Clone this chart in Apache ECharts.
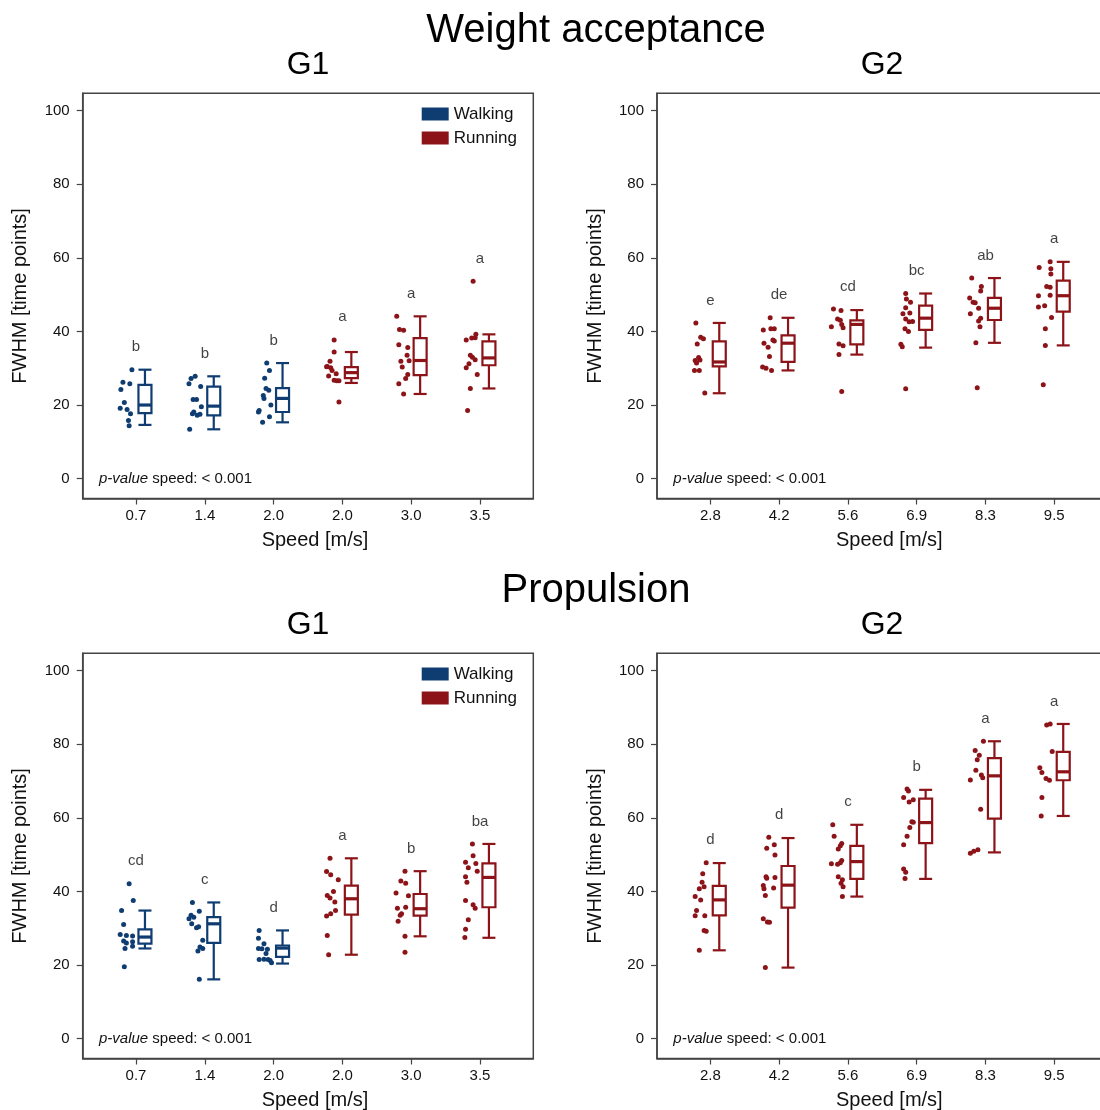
<!DOCTYPE html>
<html><head><meta charset="utf-8">
<script src="https://cdn.jsdelivr.net/npm/echarts@6/dist/echarts.min.js"></script>
<style>html,body{margin:0;padding:0;background:#fff}#c{width:1100px;height:1110px}</style>
</head><body><div id="c"></div>
<script>
// ---------- data ----------
const g1Speeds = ['0.7','1.4','2.0','2.0','3.0','3.5'];
const g2Speeds = ['2.8','4.2','5.6','6.9','8.3','9.5'];
const g1Modes = ['Walking','Walking','Walking','Running','Running','Running'];
const g2Modes = ['Running','Running','Running','Running','Running','Running'];
const yTicks = [0,20,40,60,80,100];

// box stats: [low whisker, Q1, median, Q3, high whisker]
const waG1Box = [[14.6,17.8,20.0,25.5,29.6],[13.4,17.2,19.7,25.0,27.8],[15.3,18.1,21.8,24.6,31.4],
                 [26.0,27.3,28.8,30.3,34.4],[23.0,28.1,32.1,38.2,44.1],[24.5,30.8,32.8,37.3,39.2]];
const waG2Box = [[23.2,30.5,31.7,37.3,42.3],[29.4,31.7,36.8,38.9,43.7],[33.7,36.5,41.9,43.0,45.8],
                 [35.6,40.4,43.6,47.0,50.3],[36.9,43.1,46.3,49.1,54.5],[36.2,45.4,49.7,53.8,58.9]];
const prG1Box = [[24.5,25.8,27.6,29.7,34.8],[16.1,26.0,31.2,33.0,37.0],[20.4,22.2,24.6,25.3,29.4],
                 [22.8,33.7,38.0,41.6,49.0],[27.8,33.4,35.3,39.3,45.5],[27.4,35.7,43.8,47.6,52.9]];
const prG2Box = [[24.0,33.5,37.7,41.5,47.7],[19.3,35.6,41.7,46.9,54.5],[38.6,43.4,48.1,52.4,58.1],
                 [43.4,53.1,58.7,65.2,67.6],[50.6,59.8,71.4,76.2,80.8],[60.5,70.2,72.5,77.9,85.5]];

const waG1Letters = ['b','b','b','a','a','a'];
const waG2Letters = ['e','de','cd','bc','ab','a'];
const prG1Letters = ['cd','c','d','a','b','ba'];
const prG2Letters = ['d','d','c','b','a','a'];

// individual observations
const waG1Dots = [
 [29.6,26.2,25.8,24.2,20.7,19.1,18.8,17.6,15.8,14.4],
 [27.8,27.2,25.8,25.0,21.5,21.5,19.5,18.1,17.2,17.5,17.6,13.4],
 [31.4,29.4,27.3,24.5,24.0,22.6,21.8,20.0,18.5,18.1,16.8,15.3],
 [37.7,34.4,31.9,30.5,30.1,29.4,27.9,28.5,26.7,26.6,26.6,20.8,30.4],
 [44.1,40.5,40.3,36.4,35.6,33.5,31.9,32.0,30.3,28.3,27.2,25.8,23.0],
 [53.6,39.2,38.3,37.7,38.2,33.5,33.0,32.3,31.2,30.1,28.3,24.5,18.5]
];
const waG1Jitter = [
 [-0.06,-0.19,-0.09,-0.22,-0.17,-0.23,-0.13,-0.08,-0.11,-0.10],
 [-0.14,-0.20,-0.23,-0.06,-0.17,-0.12,-0.05,-0.16,-0.11,-0.07,-0.18,-0.22],
 [-0.10,-0.06,-0.13,-0.11,-0.07,-0.15,-0.14,-0.04,-0.21,-0.22,-0.06,-0.16],
 [-0.12,-0.12,-0.18,-0.22,-0.17,-0.15,-0.20,-0.09,-0.12,-0.08,-0.05,-0.05,-0.23],
 [-0.21,-0.17,-0.11,-0.18,-0.05,-0.06,-0.15,-0.03,-0.13,-0.05,-0.08,-0.18,-0.11],
 [-0.10,-0.06,-0.07,-0.20,-0.12,-0.14,-0.11,-0.07,-0.16,-0.20,-0.04,-0.14,-0.18]
];
const waG2Dots = [
 [42.3,38.4,38.0,36.6,32.9,32.1,32.2,31.4,29.4,29.4,23.3],
 [43.7,40.4,40.7,40.7,36.8,37.7,37.4,35.7,33.2,30.3,30.0,29.4],
 [46.1,45.7,43.4,43.0,41.9,41.3,41.0,36.6,36.1,33.7,23.7],
 [50.3,48.8,47.9,46.4,44.8,45.0,43.4,42.7,42.6,40.7,40.0,36.5,35.8,24.4],
 [54.5,52.2,51.0,49.1,47.9,47.8,46.3,44.8,43.6,42.8,41.3,36.9,24.7],
 [58.9,57.4,57.0,55.6,52.2,52.0,49.7,49.8,47.0,46.6,43.8,40.7,36.2,25.5]
];
const waG2Jitter = [
 [-0.21,-0.14,-0.10,-0.19,-0.17,-0.22,-0.15,-0.20,-0.23,-0.16,-0.08],
 [-0.13,-0.23,-0.12,-0.07,-0.22,-0.09,-0.07,-0.16,-0.14,-0.24,-0.19,-0.11],
 [-0.21,-0.10,-0.15,-0.11,-0.09,-0.24,-0.07,-0.13,-0.07,-0.13,-0.09],
 [-0.16,-0.15,-0.09,-0.16,-0.20,-0.10,-0.16,-0.06,-0.11,-0.17,-0.12,-0.23,-0.21,-0.16],
 [-0.20,-0.06,-0.07,-0.23,-0.18,-0.15,-0.10,-0.22,-0.07,-0.10,-0.08,-0.14,-0.12],
 [-0.06,-0.22,-0.05,-0.05,-0.11,-0.06,-0.23,-0.06,-0.14,-0.23,-0.04,-0.13,-0.13,-0.16]
];
const prG1Dots = [
 [42.1,37.5,34.8,31.0,28.3,28.0,27.9,26.5,26.0,26.3,24.5,25.1,19.5],
 [37.0,34.6,33.5,33.0,32.6,31.2,30.1,30.4,26.7,24.9,24.5,23.8,16.1],
 [29.4,27.3,25.8,24.5,24.4,24.3,23.1,21.5,21.6,21.5,20.6,21.2],
 [49.0,45.4,44.5,43.2,40.0,38.9,38.2,37.1,34.8,33.9,33.3,28.0,22.8],
 [45.5,42.8,42.2,39.6,38.8,35.4,35.7,33.9,33.5,31.9,27.8,23.5],
 [52.9,49.7,47.9,47.6,46.4,45.5,44.0,42.5,37.5,36.4,35.4,32.3,29.7,27.5]
];
const prG1Jitter = [
 [-0.10,-0.04,-0.21,-0.18,-0.23,-0.14,-0.05,-0.18,-0.14,-0.05,-0.16,-0.05,-0.17],
 [-0.18,-0.08,-0.20,-0.16,-0.23,-0.19,-0.12,-0.09,-0.03,-0.07,-0.03,-0.10,-0.08],
 [-0.21,-0.22,-0.14,-0.22,-0.17,-0.09,-0.11,-0.21,-0.14,-0.08,-0.03,-0.05],
 [-0.18,-0.23,-0.17,-0.06,-0.13,-0.22,-0.18,-0.11,-0.10,-0.17,-0.23,-0.22,-0.20],
 [-0.09,-0.15,-0.08,-0.22,-0.04,-0.20,-0.08,-0.14,-0.16,-0.19,-0.09,-0.09],
 [-0.11,-0.10,-0.21,-0.06,-0.17,-0.04,-0.21,-0.19,-0.21,-0.10,-0.07,-0.17,-0.21,-0.22]
];
const prG2Dots = [
 [47.8,44.8,42.5,41.3,40.7,38.6,37.7,34.8,33.4,33.4,29.4,29.2,24.0],
 [54.7,51.7,52.7,49.9,44.0,43.6,43.8,41.6,40.7,40.9,38.9,32.6,31.7,31.6,19.3],
 [58.1,55.0,53.0,52.4,51.5,48.4,47.8,47.5,47.4,44.0,43.2,42.2,41.3,38.6],
 [67.8,67.3,65.5,64.9,64.3,58.9,57.4,55.0,52.7,46.1,45.2,43.5,58.8],
 [80.8,78.3,77.0,75.8,72.9,71.6,70.9,70.3,62.3,50.4,50.9,51.3],
 [85.2,85.5,78.0,73.6,72.3,70.7,70.2,65.5,60.5]
];
const prG2Jitter = [
 [-0.06,-0.11,-0.12,-0.09,-0.16,-0.22,-0.14,-0.20,-0.22,-0.08,-0.09,-0.06,-0.16],
 [-0.15,-0.18,-0.07,-0.06,-0.19,-0.18,-0.06,-0.23,-0.22,-0.08,-0.20,-0.23,-0.17,-0.14,-0.20],
 [-0.22,-0.20,-0.09,-0.11,-0.14,-0.09,-0.11,-0.24,-0.15,-0.14,-0.08,-0.10,-0.07,-0.08],
 [-0.14,-0.12,-0.19,-0.05,-0.11,-0.07,-0.10,-0.14,-0.19,-0.19,-0.16,-0.17,-0.05],
 [-0.03,-0.15,-0.09,-0.12,-0.14,-0.06,-0.04,-0.22,-0.07,-0.22,-0.17,-0.11],
 [-0.11,-0.06,-0.03,-0.21,-0.18,-0.12,-0.07,-0.18,-0.19]
];

// ---------- styling ----------
const FONT = '"Liberation Sans", Arial, Helvetica, sans-serif';
const COLORS = { Walking: '#0f3d72', Running: '#8c1419' };
const TXT = '#111';
const AX = '#444';
const BOX_SHIFT = 0.13;

const panels = [
  { speeds: g1Speeds, modes: g1Modes, box: waG1Box, dots: waG1Dots, jit: waG1Jitter, letters: waG1Letters, left: 82.7, top: 93.3 },
  { speeds: g2Speeds, modes: g2Modes, box: waG2Box, dots: waG2Dots, jit: waG2Jitter, letters: waG2Letters, left: 657, top: 93.3 },
  { speeds: g1Speeds, modes: g1Modes, box: prG1Box, dots: prG1Dots, jit: prG1Jitter, letters: prG1Letters, left: 82.7, top: 653.3 },
  { speeds: g2Speeds, modes: g2Modes, box: prG2Box, dots: prG2Dots, jit: prG2Jitter, letters: prG2Letters, left: 657, top: 653.3 }
];

const grid = [], xAxis = [], yAxis = [], series = [];
panels.forEach((p, idx) => {
  grid.push({ left: p.left, top: p.top, width: 450.6, height: 405.2, show: true, borderColor: AX, borderWidth: 1.5,
              containLabel: false, outerBoundsMode: 'none' });
  xAxis.push({
    type: 'value', gridIndex: idx, min: 0.225, max: 6.775,
    axisLine: { show: true, onZero: false, lineStyle: { color: AX, width: 1.5 } },
    axisTick: { show: true, length: 6, customValues: [1,2,3,4,5,6], lineStyle: { color: AX, width: 1.2 } },
    axisLabel: { customValues: [1,2,3,4,5,6], formatter: v => p.speeds[Math.round(v) - 1], fontSize: 15, color: TXT, fontFamily: FONT, margin: 10 },
    splitLine: { show: false },
    name: 'Speed [m/s]', nameLocation: 'middle', nameGap: 32,
    nameTextStyle: { fontSize: 20, color: TXT, fontFamily: FONT, padding: [0, 0, 0, 14] }
  });
  yAxis.push({
    type: 'value', gridIndex: idx, min: -5.4, max: 104.7,
    axisLine: { show: true, onZero: false, lineStyle: { color: AX, width: 1.5 } },
    axisTick: { show: true, length: 6, customValues: yTicks, lineStyle: { color: AX, width: 1.2 } },
    axisLabel: { customValues: yTicks, fontSize: 15, color: TXT, fontFamily: FONT, margin: 13 },
    splitLine: { show: false },
    name: 'FWHM [time points]', nameLocation: 'middle', nameGap: 52,
    nameTextStyle: { fontSize: 20, color: TXT, fontFamily: FONT }
  });

  ['Walking', 'Running'].forEach(mode => {
    const col = COLORS[mode];
    const pts = [], boxes = [];
    p.modes.forEach((m, i) => {
      if (m !== mode) return;
      p.dots[i].forEach((v, k) => pts.push([i + 1 + p.jit[i][k], v]));
      boxes.push([i + 1].concat(p.box[i]));
    });
    if (!pts.length) return;
    series.push({
      type: 'scatter', name: mode, xAxisIndex: idx, yAxisIndex: idx, data: pts,
      symbol: 'circle', symbolSize: 5, itemStyle: { color: col, opacity: 1 }, z: 3, silent: true
    });
    series.push({
      type: 'custom', name: mode, xAxisIndex: idx, yAxisIndex: idx, data: boxes,
      encode: { x: 0, y: [1, 2, 3, 4, 5] }, itemStyle: { color: col }, z: 2, silent: true,
      renderItem: (params, api) => {
        const x = api.value(0) + BOX_SHIFT;
        const lo = api.coord([x, api.value(1)]);
        const q1 = api.coord([x, api.value(2)]);
        const md = api.coord([x, api.value(3)]);
        const q3 = api.coord([x, api.value(4)]);
        const hi = api.coord([x, api.value(5)]);
        const cx = lo[0], hw = 6.5;
        const st = { stroke: col, lineWidth: 2.2, fill: null };
        return { type: 'group', children: [
          { type: 'line', shape: { x1: cx, y1: hi[1], x2: cx, y2: q3[1] }, style: st },
          { type: 'line', shape: { x1: cx, y1: q1[1], x2: cx, y2: lo[1] }, style: st },
          { type: 'line', shape: { x1: cx - hw, y1: hi[1], x2: cx + hw, y2: hi[1] }, style: st },
          { type: 'line', shape: { x1: cx - hw, y1: lo[1], x2: cx + hw, y2: lo[1] }, style: st },
          { type: 'rect', shape: { x: cx - hw, y: q3[1], width: 2 * hw, height: q1[1] - q3[1] }, style: { stroke: col, lineWidth: 2.2, fill: '#fff' } },
          { type: 'line', shape: { x1: cx - hw, y1: md[1], x2: cx + hw, y2: md[1] }, style: { stroke: col, lineWidth: 3.2 } }
        ]};
      }
    });
  });

  series.push({
    type: 'scatter', name: 'letters' + idx, xAxisIndex: idx, yAxisIndex: idx, silent: true,
    symbol: 'circle', symbolSize: 0.1, itemStyle: { color: 'rgba(0,0,0,0)' }, z: 4,
    data: p.letters.map((s, i) => ({ value: [i + 1, Math.max.apply(null, p.dots[i].concat([p.box[i][4]]))], letter: s })),
    label: { show: true, position: 'top', distance: 15, fontSize: 15, color: TXT, fontFamily: FONT,
             formatter: prm => p.letters[prm.dataIndex] }
  });
});

const legendBase = {
  data: ['Walking', 'Running'], orient: 'vertical', icon: 'rect', itemWidth: 27, itemHeight: 13, itemGap: 7,
  selectedMode: false, textStyle: { fontSize: 17, color: TXT, fontFamily: FONT }, padding: 5
};

const head = (text, x, top, size, align) => ({
  text, left: x, top, textAlign: align || 'center', padding: 0,
  textStyle: { fontSize: size, fontWeight: 'normal', color: '#000', fontFamily: FONT }
});
const pval = (x, top) => ({
  text: '{i|p-value} speed: < 0.001', left: x, top, textAlign: 'left', padding: 0,
  textStyle: { fontSize: 15, fontWeight: 'normal', color: TXT, fontFamily: FONT,
               rich: { i: { fontStyle: 'italic', fontSize: 15, color: TXT, fontFamily: FONT } } }
});

const option = {
  animation: false,
  backgroundColor: '#fff',
  title: [
    head('Weight acceptance', 596, 11, 40),
    head('G1', 308, 49, 32),
    head('G2', 882, 49, 32),
    head('Propulsion', 596, 571, 40),
    head('G1', 308, 609, 32),
    head('G2', 882, 609, 32),
    pval(99, 471.8), pval(673.3, 471.8), pval(99, 1031.8), pval(673.3, 1031.8)
  ],
  legend: [
    Object.assign({}, legendBase, { left: 416.7, top: 100.5 }),
    Object.assign({}, legendBase, { left: 416.7, top: 660.5 })
  ],
  grid, xAxis, yAxis, series
};

const chart = echarts.init(document.getElementById('c'), null, { renderer: 'canvas' });
chart.setOption(option);
</script>
</body></html>
